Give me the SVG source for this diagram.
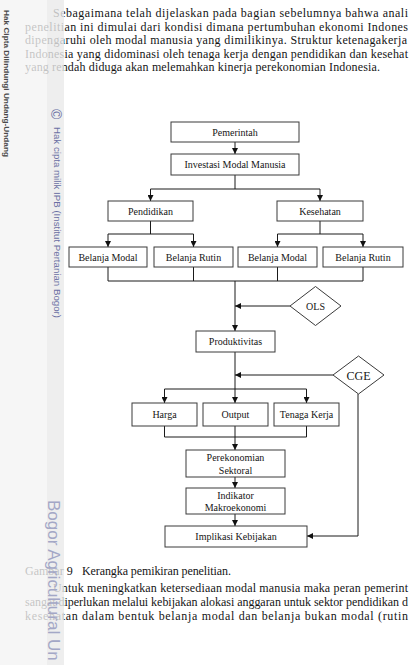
<svg xmlns="http://www.w3.org/2000/svg" width="410" height="665" viewBox="0 0 410 665">
<style>
.bx{fill:#fff;stroke:#3a3a3a;stroke-width:1}
.lbl{font-family:"Liberation Serif","Times New Roman",serif;font-size:10px;fill:#151515;text-anchor:middle}
.big{font-size:12px}
.body{font-family:"Liberation Serif","Times New Roman",serif;font-size:12px;fill:#151515}
.ln{fill:none;stroke:#1a1a1a;stroke-width:1}
.wm{font-family:"Liberation Sans",Arial,sans-serif}
</style>
<defs>
<marker id="ah" markerUnits="userSpaceOnUse" markerWidth="6" markerHeight="6" viewBox="0 0 10 10" refX="10" refY="5" orient="auto"><path d="M0,0 L10,5 L0,10 z" fill="#111"/></marker>
</defs>
<rect x="0" y="0" width="410" height="665" fill="#fff"/>

<g id="body-text" class="body">
<text x="53" y="17" textLength="355" lengthAdjust="spacing">Sebagaimana telah dijelaskan pada bagian sebelumnya bahwa anali</text>
<text x="25" y="30.5" textLength="383" lengthAdjust="spacing">penelitian ini dimulai dari kondisi dimana pertumbuhan ekonomi Indones</text>
<text x="25" y="44" textLength="382" lengthAdjust="spacing">dipengaruhi oleh modal manusia yang dimilikinya. Struktur ketenagakerja</text>
<text x="25" y="57.5" textLength="383" lengthAdjust="spacing">Indonesia yang didominasi oleh tenaga kerja dengan pendidikan dan kesehat</text>
<text x="25" y="71" textLength="355" lengthAdjust="spacing">yang rendah diduga akan melemahkan kinerja perekonomian Indonesia.</text>
<text x="25" y="575">Gambar 9</text>
<text x="82" y="575" textLength="149" lengthAdjust="spacing">Kerangka pemikiran penelitian.</text>
<text x="53" y="592" textLength="355" lengthAdjust="spacing">Untuk meningkatkan ketersediaan modal manusia maka peran pemerint</text>
<text x="25" y="606" textLength="383" lengthAdjust="spacing">sangat diperlukan melalui kebijakan alokasi anggaran untuk sektor pendidikan d</text>
<text x="25" y="620" textLength="383" lengthAdjust="spacing">kesehatan dalam bentuk belanja modal dan belanja bukan modal (rutin</text>
</g>

<g id="watermark">
<rect x="0" y="0" width="47" height="665" fill="#f4f4f4" opacity="0.78"/>
<rect x="47" y="0" width="17" height="665" fill="#eaeaea" opacity="0.8"/>
<text class="wm" transform="translate(4,10) rotate(90)" font-size="8" font-weight="bold" fill="#4a4a4a" textLength="147" lengthAdjust="spacingAndGlyphs">Hak Cipta Dilindungi Undang-Undang</text>
<text class="wm" transform="translate(51,109) rotate(90)" font-size="14" fill="#6a6fa3">©</text>
<text class="wm" transform="translate(53.5,127) rotate(90)" font-size="9.7" fill="#6a6fa3" textLength="191" lengthAdjust="spacingAndGlyphs">Hak cipta milik IPB (Institut Pertanian Bogor)</text>
<text class="wm" transform="translate(47.5,500) rotate(90)" font-size="17" fill="#a3a7c6">Bogor Agricultural Un</text>
</g>

<g id="connectors">
<path class="ln" d="M235,142 V154" marker-end="url(#ah)"/>
<path class="ln" d="M235,175 V189 M150.5,189 H320"/>
<path class="ln" d="M150.5,189 V201" marker-end="url(#ah)"/>
<path class="ln" d="M320,189 V201" marker-end="url(#ah)"/>
<path class="ln" d="M150.5,221 V234 M108,234 H193.5"/>
<path class="ln" d="M108,234 V247" marker-end="url(#ah)"/>
<path class="ln" d="M193.5,234 V247" marker-end="url(#ah)"/>
<path class="ln" d="M320,221 V234 M277.5,234 H363"/>
<path class="ln" d="M277.5,234 V247" marker-end="url(#ah)"/>
<path class="ln" d="M363,234 V247" marker-end="url(#ah)"/>
<path class="ln" d="M108,267 V281 M193.5,267 V281 M277.5,267 V281 M363,267 V281 M108,281 H363"/>
<path class="ln" d="M235,281 V331" marker-end="url(#ah)"/>
<path class="ln" d="M290,306 H235" marker-end="url(#ah)"/>
<path class="ln" d="M235,352 V403" marker-end="url(#ah)"/>
<path class="ln" d="M164.5,389 H306.5"/>
<path class="ln" d="M164.5,389 V403" marker-end="url(#ah)"/>
<path class="ln" d="M306.5,389 V403" marker-end="url(#ah)"/>
<path class="ln" d="M333,375 H235" marker-end="url(#ah)"/>
<path class="ln" d="M358,394 V536 H307" marker-end="url(#ah)"/>
<path class="ln" d="M164.5,426 V437 H306.5 V426"/>
<path class="ln" d="M235,426 V450" marker-end="url(#ah)"/>
<path class="ln" d="M235,477 V488" marker-end="url(#ah)"/>
<path class="ln" d="M235,514 V526" marker-end="url(#ah)"/>
</g>

<g id="pemerintah"><rect class="bx" x="171" y="122" width="128" height="20"/><text class="lbl" x="235" y="135.5">Pemerintah</text></g>
<g id="investasi"><rect class="bx" x="171" y="154" width="128" height="21"/><text class="lbl" x="235" y="168">Investasi Modal Manusia</text></g>
<g id="pendidikan"><rect class="bx" x="108" y="201" width="85" height="20"/><text class="lbl" x="150.5" y="214.5">Pendidikan</text></g>
<g id="kesehatan"><rect class="bx" x="277" y="201" width="86" height="20"/><text class="lbl" x="320" y="214.5">Kesehatan</text></g>
<g id="belanja-modal-1"><rect class="bx" x="69" y="247" width="78" height="20"/><text class="lbl" x="108" y="260.5">Belanja Modal</text></g>
<g id="belanja-rutin-1"><rect class="bx" x="154" y="247" width="79" height="20"/><text class="lbl" x="193.5" y="260.5">Belanja Rutin</text></g>
<g id="belanja-modal-2"><rect class="bx" x="238" y="247" width="79" height="20"/><text class="lbl" x="277.5" y="260.5">Belanja Modal</text></g>
<g id="belanja-rutin-2"><rect class="bx" x="323" y="247" width="80" height="20"/><text class="lbl" x="363" y="260.5">Belanja Rutin</text></g>
<g id="ols"><polygon class="bx" points="290,306 315.5,286.5 341,306 315.5,325.5"/><text class="lbl" x="315.5" y="309.5">OLS</text></g>
<g id="produktivitas"><rect class="bx" x="196" y="331" width="79" height="21"/><text class="lbl" x="235.5" y="345">Produktivitas</text></g>
<g id="cge"><polygon class="bx" points="333,375 358.5,356 384,375 358.5,394"/><text class="lbl big" x="358.5" y="379.5">CGE</text></g>
<g id="harga"><rect class="bx" x="132" y="403" width="65" height="23"/><text class="lbl" x="164.5" y="418">Harga</text></g>
<g id="output"><rect class="bx" x="203" y="403" width="65" height="23"/><text class="lbl" x="235.5" y="418">Output</text></g>
<g id="tenaga-kerja"><rect class="bx" x="274" y="403" width="65" height="23"/><text class="lbl" x="306.5" y="418">Tenaga Kerja</text></g>
<g id="perekonomian-sektoral"><rect class="bx" x="186" y="450" width="99" height="27"/><text class="lbl" x="235.5" y="461">Perekonomian</text><text class="lbl" x="235.5" y="473.5">Sektoral</text></g>
<g id="indikator-makroekonomi"><rect class="bx" x="186" y="488" width="99" height="26"/><text class="lbl" x="235.5" y="499">Indikator</text><text class="lbl" x="235.5" y="511">Makroekonomi</text></g>
<g id="implikasi-kebijakan"><rect class="bx" x="165" y="526" width="142" height="21"/><text class="lbl" x="236" y="540">Implikasi Kebijakan</text></g>
</svg>
